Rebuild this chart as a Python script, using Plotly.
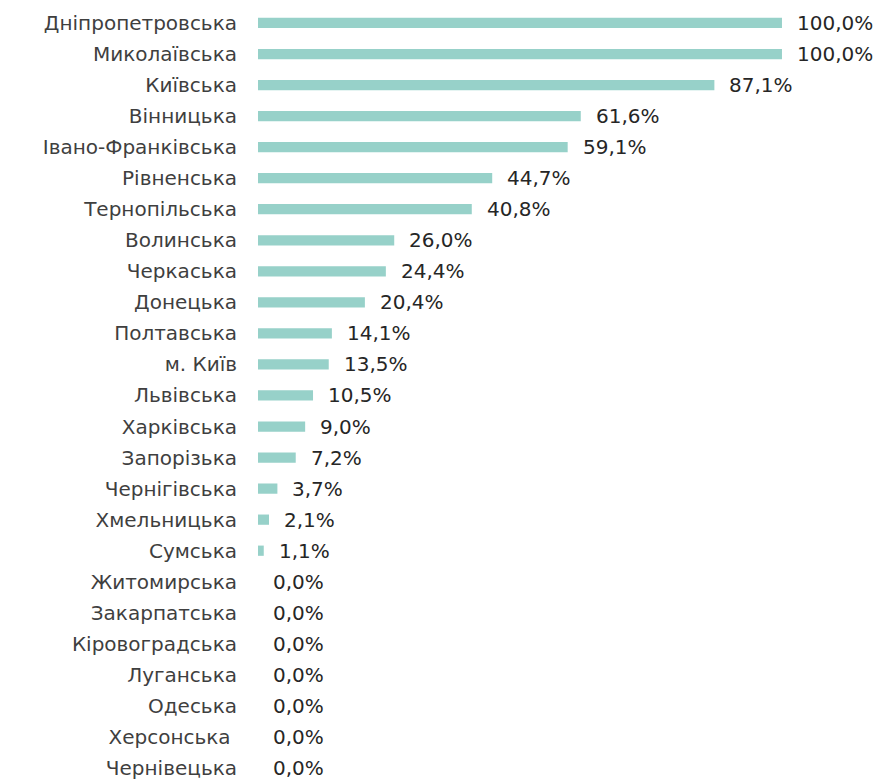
import plotly.graph_objects as go

regions = ["Дніпропетровська", "Миколаївська", "Київська", "Вінницька", "Івано-Франківська",
           "Рівненська", "Тернопільська", "Волинська", "Черкаська", "Донецька", "Полтавська",
           "м. Київ", "Львівська", "Харківська", "Запорізька", "Чернігівська", "Хмельницька",
           "Сумська", "Житомирська", "Закарпатська", "Кіровоградська", "Луганська", "Одеська",
           "Херсонська\u00a0", "Чернівецька"]
values = [100.0, 100.0, 87.1, 61.6, 59.1, 44.7, 40.8, 26.0, 24.4, 20.4, 14.1, 13.5, 10.5,
          9.0, 7.2, 3.7, 2.1, 1.1, 0.0, 0.0, 0.0, 0.0, 0.0, 0.0, 0.0]
labels = [f"{v:.1f}%".replace(".", ",") for v in values]

FONT = "DejaVu Sans"

fig = go.Figure(go.Bar(
    x=values, y=regions, orientation="h",
    marker=dict(color="#97D1C9", line=dict(width=0)),
    width=0.33,
    hoverinfo="skip",
))

for r, v, t in zip(regions, values, labels):
    fig.add_annotation(x=v, y=r, text=t, xanchor="left", yanchor="middle",
                       xshift=13, showarrow=False,
                       font=dict(family=FONT, size=20, color="#262626"))

fig.update_layout(
    width=873, height=772,
    margin=dict(l=250, r=0, t=0, b=0),
    plot_bgcolor="white", paper_bgcolor="white",
    showlegend=False,
    xaxis=dict(range=[0, 118.9], visible=False, fixedrange=True),
    yaxis=dict(type="category", categoryorder="array", categoryarray=regions,
               range=[24.387, -0.483], showgrid=False, zeroline=False, showline=False,
               ticks="", ticklabelstandoff=20, automargin=False,
               tickfont=dict(family=FONT, size=20, color="#3f3f3f")),
)

fig.write_html("out.html")
